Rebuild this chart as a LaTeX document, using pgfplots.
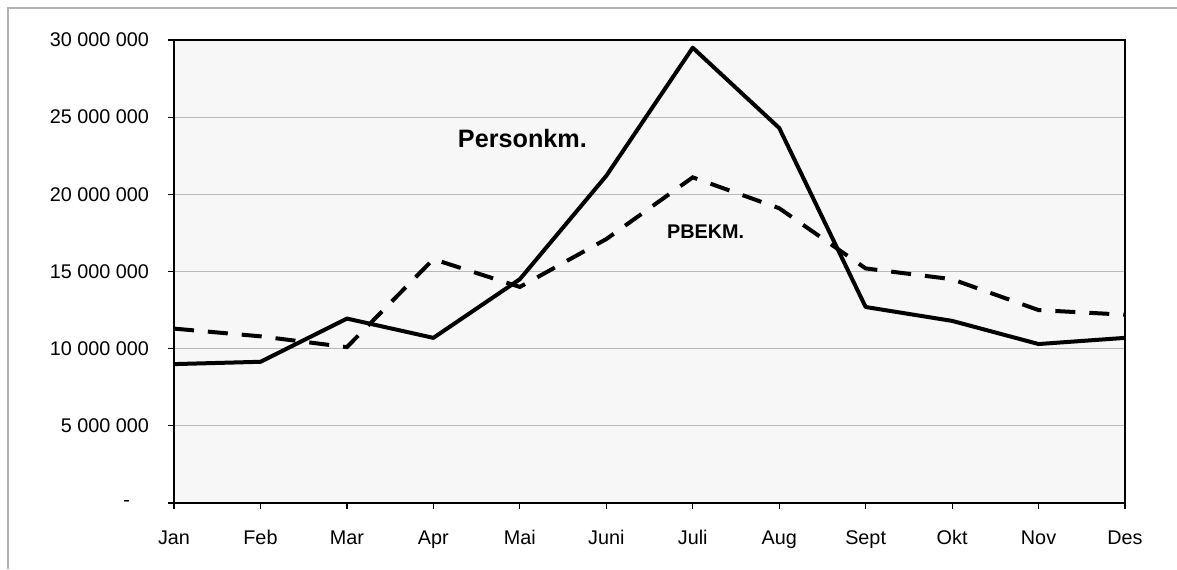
\documentclass[border=0pt]{standalone}
\usepackage{pgfplots}
\pgfplotsset{compat=1.18}
\usepackage{fontspec}
\setmainfont{Liberation Sans}
\begin{document}
\begin{tikzpicture}[x=1pt,y=1pt]
\useasboundingbox (0,0) rectangle (588.5,284.5);
\fill[white] (0,0) rectangle (588.5,284.5);
\draw[gray!60, line width=0.6pt] (4,0) -- (4,280.5) -- (588.5,280.5);
\begin{axis}[
  at={(87pt,33pt)}, anchor=south west,
  scale only axis, width=475.5pt, height=231.5pt,
  xmin=0, xmax=11, ymin=0, ymax=30000000,
  xtick={0,1,2,3,4,5,6,7,8,9,10,11},
  xticklabels={Jan,Feb,Mar,Apr,Mai,Juni,Juli,Aug,Sept,Okt,Nov,Des},
  ytick={0,5000000,10000000,15000000,20000000,25000000,30000000},
  yticklabels={{-\rule{9.5pt}{0pt}},5 000 000,10 000 000,15 000 000,20 000 000,25 000 000,30 000 000},
  scaled y ticks=false,
  tick pos=left,
  tick align=outside,
  major tick length=3pt,
  tick style={black, line width=0.6pt},
  axis line style={black, line width=0.8pt},
  axis background/.style={fill=gray!6},
  ymajorgrids,
  grid style={gray!55, line width=0.6pt},
  tick label style={font=\fontsize{9.9}{11}\selectfont},
  yticklabel style={xshift=-6pt},
  xticklabel style={yshift=-7pt, text height=7.2pt, text depth=2.1pt},
  clip=false,
]
\addplot[black, line width=2pt, line join=round] coordinates {
 (0,9000000) (1,9150000) (2,11950000) (3,10700000) (4,14500000) (5,21200000)
 (6,29500000) (7,24300000) (8,12700000) (9,11800000) (10,10300000) (11,10700000)};
\addplot[black, line width=2pt, dash pattern=on 10pt off 7pt] coordinates {
 (0,11300000) (1,10800000) (2,10100000) (3,15800000) (4,14000000) (5,17100000)
 (6,21100000) (7,19100000) (8,15200000) (9,14500000) (10,12500000) (11,12200000)};
\node[font=\bfseries\fontsize{12.6}{14}\selectfont] at (axis cs:4.03,23650000) {Personkm.};
\node[font=\bfseries\fontsize{9.9}{11}\selectfont] at (axis cs:6.15,17560000) {PBEKM.};
\end{axis}
\end{tikzpicture}
\end{document}
